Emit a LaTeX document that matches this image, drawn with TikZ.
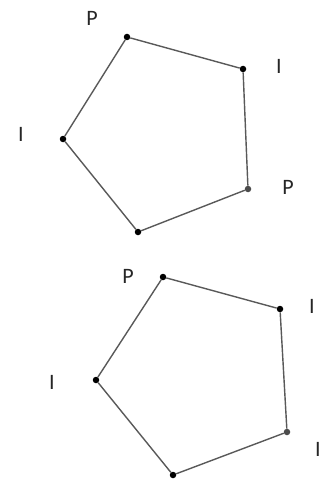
\documentclass[tikz,border=0pt]{standalone}
\usepackage{fontspec}
\setmainfont{Carlito}
\begin{document}
\begin{tikzpicture}[x=1pt,y=-1pt,
  vtx/.style={circle,fill=black,inner sep=0pt,minimum size=6.5pt},
  edge/.style={draw=black!65,line width=1.4pt},
  lbl/.style={font=\fontsize{22}{24}\selectfont,text=black!85,inner sep=0pt}]
\useasboundingbox (0,0) rectangle (324,484);
% top pentagon
\node[vtx] (a1) at (127,37) {};
\node[vtx] (b1) at (243,69) {};
\node[vtx,fill=black!70] (c1) at (248,189) {};
\node[vtx] (d1) at (138,232) {};
\node[vtx] (e1) at (63,139) {};
\draw[edge] (a1) -- (b1) -- (c1) -- (d1) -- (e1) -- (a1);
\node[lbl] (pa1) at (92,18) {P};
\node[lbl] (lb1) at (279,66) {I};
\node[lbl] (pc1) at (288,187) {P};
\node[lbl] (le1) at (21,134) {I};
% bottom pentagon
\node[vtx] (a2) at (163,277) {};
\node[vtx] (b2) at (280,309) {};
\node[vtx,fill=black!70] (c2) at (287,432) {};
\node[vtx] (d2) at (173,475) {};
\node[vtx] (e2) at (96,380) {};
\draw[edge] (a2) -- (b2) -- (c2) -- (d2) -- (e2) -- (a2);
\node[lbl] (pa2) at (128,276) {P};
\node[lbl] (lb2) at (312,306) {I};
\node[lbl] (lc2) at (318,449) {I};
\node[lbl] (le2) at (52,382) {I};
\end{tikzpicture}
\end{document}
